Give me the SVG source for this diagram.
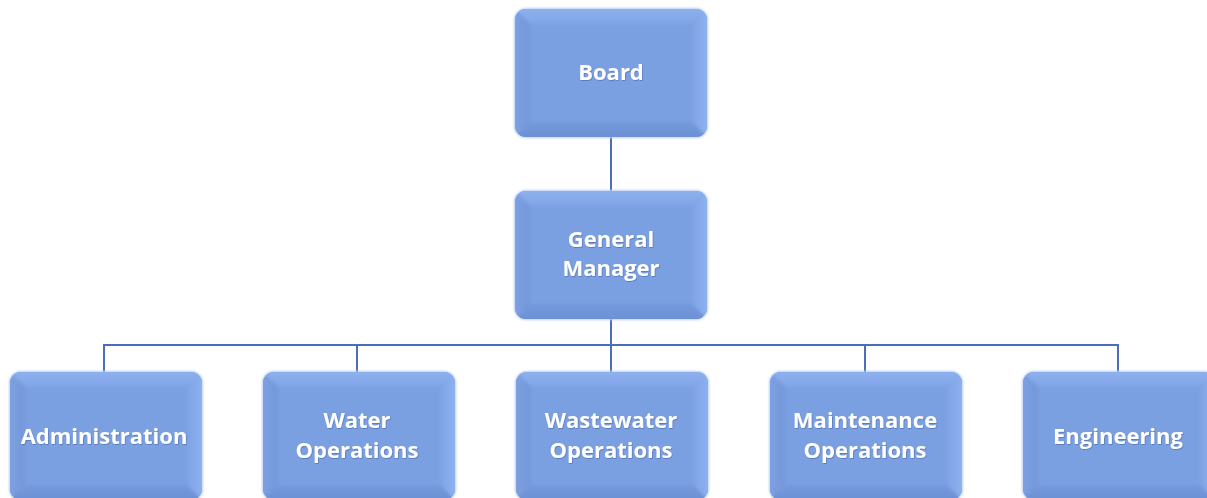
<svg xmlns="http://www.w3.org/2000/svg" xmlns:xlink="http://www.w3.org/1999/xlink" width="1207" height="498" viewBox="0 0 1207 498">
<defs>
<linearGradient id="gTop" x1="0" y1="0" x2="0" y2="1"><stop offset="0" stop-color="#90b2ef"/><stop offset="1" stop-color="#80a5e7"/></linearGradient>
<linearGradient id="gLeft" x1="0" y1="0" x2="1" y2="0"><stop offset="0" stop-color="#7fa2e2"/><stop offset="1" stop-color="#7397da"/></linearGradient>
<linearGradient id="gRight" x1="0" y1="0" x2="1" y2="0"><stop offset="0" stop-color="#7ea3e5"/><stop offset="1" stop-color="#92b4f1"/></linearGradient>
<linearGradient id="gBot" x1="0" y1="0" x2="0" y2="1"><stop offset="0" stop-color="#7499dc"/><stop offset="1" stop-color="#6b8ed3"/></linearGradient>
<filter id="glow" x="-5%" y="-5%" width="110%" height="110%"><feGaussianBlur stdDeviation="1.2"/></filter>
<filter id="soft" x="-5%" y="-5%" width="110%" height="110%"><feGaussianBlur stdDeviation="1.5"/></filter>
<filter id="tsh" x="-5%" y="-20%" width="110%" height="140%"><feDropShadow dx="0.6" dy="0.8" stdDeviation="0.6" flood-color="#3a5590" flood-opacity="0.6"/></filter>
<clipPath id="bc"><rect x="0" y="0" width="192" height="128" rx="11"/></clipPath>
<symbol id="box" overflow="visible">
<rect x="-1" y="-1" width="194" height="130" rx="12" fill="#b9cdf3" filter="url(#glow)"/>
<g clip-path="url(#bc)">
<rect x="0" y="0" width="192" height="128" fill="#7aa0e2"/>
<g filter="url(#soft)">
<polygon points="-4,-4 196,-4 177,15 15,15" fill="url(#gTop)"/>
<polygon points="-4,-4 15,15 15,113 -4,132" fill="url(#gLeft)"/>
<polygon points="196,-4 196,132 177,113 177,15" fill="url(#gRight)"/>
<polygon points="-4,132 15,113 177,113 196,132" fill="url(#gBot)"/>
<rect x="15" y="15" width="162" height="98" fill="#7aa0e2"/>
</g>
</g>
</symbol>
</defs>
<style>
.lbl{font-family:"Open Sans","Liberation Sans",sans-serif;font-weight:bold;font-size:22px;fill:#ffffff;text-anchor:middle;filter:url(#tsh)}
.con{stroke:#4a6dbd;stroke-width:2;fill:none}
</style>
<rect width="1207" height="498" fill="#ffffff"/>
<g id="connectors">
<path class="con" d="M611,136 V191"/>
<path class="con" d="M611,318 V345"/>
<path class="con" d="M104,372 V345 H1118 V372"/>
<path class="con" d="M357,345 V372"/>
<path class="con" d="M611,345 V372"/>
<path class="con" d="M865,345 V372"/>
</g>
<g id="board"><use xlink:href="#box" x="515" y="9"/><text class="lbl" x="611" y="80">Board</text></g>
<g id="general-manager"><use xlink:href="#box" x="515" y="191"/><text class="lbl" x="611" y="247">General</text><text class="lbl" x="611" y="276">Manager</text></g>
<g id="administration"><use xlink:href="#box" x="10" y="372"/><text class="lbl" x="104" y="444">Administration</text></g>
<g id="water-operations"><use xlink:href="#box" x="263" y="372"/><text class="lbl" x="357" y="428">Water</text><text class="lbl" x="357" y="458">Operations</text></g>
<g id="wastewater-operations"><use xlink:href="#box" x="516" y="372"/><text class="lbl" x="611" y="428">Wastewater</text><text class="lbl" x="611" y="458">Operations</text></g>
<g id="maintenance-operations"><use xlink:href="#box" x="770" y="372"/><text class="lbl" x="865" y="428">Maintenance</text><text class="lbl" x="865" y="458">Operations</text></g>
<g id="engineering"><use xlink:href="#box" x="1023" y="372"/><text class="lbl" x="1118" y="444">Engineering</text></g>
</svg>
